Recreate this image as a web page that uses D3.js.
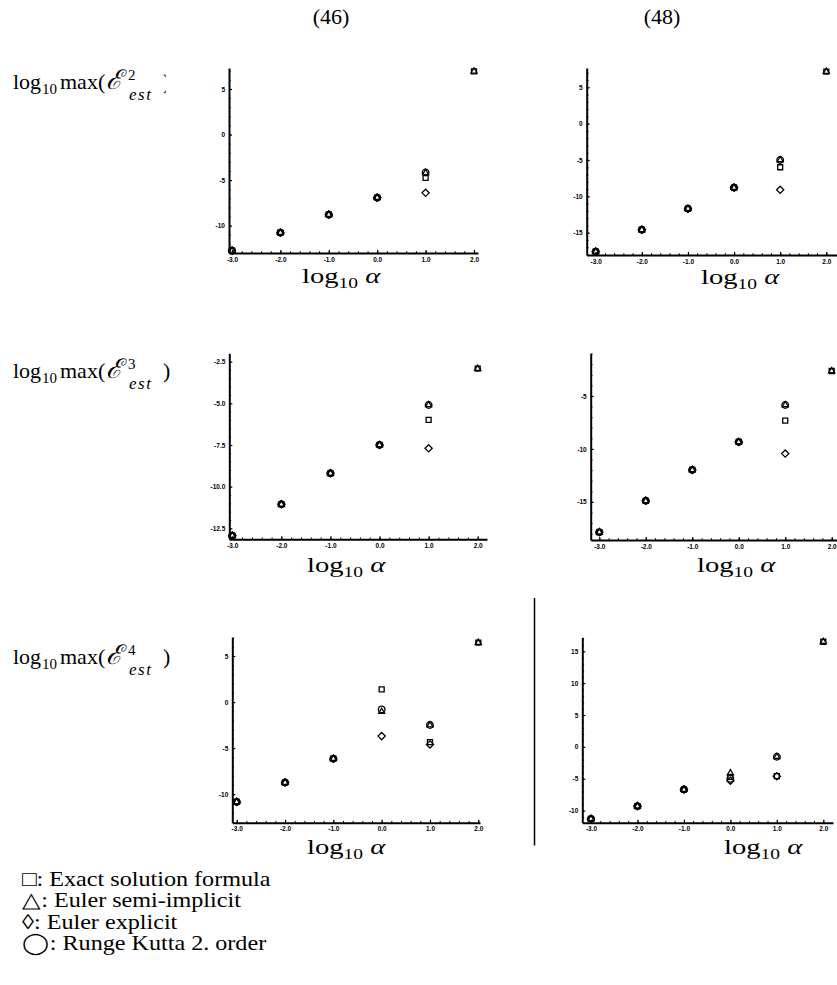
<!DOCTYPE html>
<html>
<head>
<meta charset="utf-8">
<script src="https://cdn.jsdelivr.net/npm/d3@7"></script>
<style>
  body { margin: 0; background: #fff; }
  svg { display: block; }
  .tick text { font-family: "Liberation Sans", Arial, sans-serif; font-weight: bold; font-size: 6.5px; fill: #000; }
  .serif { font-family: "Liberation Serif", "Times New Roman", serif; fill: #000; }
</style>
</head>
<body>
<div id="chart"></div>
<script>
// 数据：横轴 log10(alpha)
const alphaLog = [-3, -2, -1, 0, 1, 2];
const xTickValues = [-3, -2, -1, 0, 1, 2];

// 四种方法
const methods = ["exact", "semi", "explicit", "rk2"];
const legendLabels = ["□: Exact solution formula", "△: Euler semi-implicit", "◊: Euler explicit", "◯: Runge Kutta 2. order"];
const columnTitles = ["(46)", "(48)"];

// 每个子图的 y 刻度
const yTicks_e2_46 = [5, 0, -5, -10];
const yTicks_e2_48 = [5, 0, -5, -10, -15];
const yTicks_e3_46 = [-2.5, -5, -7.5, -10, -12.5];
const yTicks_e3_48 = [-5, -10, -15];
const yTicks_e4_46 = [5, 0, -5, -10];
const yTicks_e4_48 = [15, 10, 5, 0, -5, -10];

// 数值（null = 没有点）
const e2_46_exact    = [-12.74, -10.77, -8.79, -6.93, -4.75, 6.94];
const e2_46_semi     = [-12.74, -10.77, -8.79, -6.93, -4.2, 6.94];
const e2_46_explicit = [-12.74, -10.77, -8.79, -6.93, -6.4, null];
const e2_46_rk2      = [-12.74, -10.77, -8.79, -6.93, -4.16, null];

const e2_48_exact    = [-17.6, -14.6, -11.7, -8.8, -6.0, 7.15];
const e2_48_semi     = [-17.6, -14.6, -11.7, -8.8, -5.0, 7.15];
const e2_48_explicit = [-17.6, -14.6, -11.7, -8.8, -9.1, null];
const e2_48_rk2      = [-17.6, -14.6, -11.7, -8.8, -5.0, null];

const e3_46_exact    = [-12.94, -11.06, -9.2, -7.5, -6.0, -2.92];
const e3_46_semi     = [-12.94, -11.06, -9.2, -7.5, -5.1, -2.92];
const e3_46_explicit = [-12.94, -11.06, -9.2, -7.5, -7.7, null];
const e3_46_rk2      = [-12.94, -11.06, -9.2, -7.5, -5.1, null];

const e3_48_exact    = [-17.86, -14.9, -11.98, -9.34, -7.33, -2.64];
const e3_48_semi     = [-17.86, -14.9, -11.98, -9.34, -5.85, -2.64];
const e3_48_explicit = [-17.86, -14.9, -11.98, -9.34, -10.44, null];
const e3_48_rk2      = [-17.86, -14.9, -11.98, -9.34, -5.85, null];

const e4_46_exact    = [-10.84, -8.74, -6.15, 1.38, -4.35, 6.45];
const e4_46_semi     = [-10.84, -8.74, -6.15, -1.05, -2.5, 6.45];
const e4_46_explicit = [-10.84, -8.74, -6.15, -3.7, -4.6, null];
const e4_46_rk2      = [-10.84, -8.74, -6.15, -0.8, -2.5, null];

const e4_48_exact    = [-11.3, -9.3, -6.7, -4.7, -4.6, 16.5];
const e4_48_semi     = [-11.3, -9.3, -6.7, -4.1, -1.55, 16.5];
const e4_48_explicit = [-11.3, -9.3, -6.7, -5.3, -4.6, null];
const e4_48_rk2      = [-11.3, -9.3, -6.7, -5.0, -1.55, null];

// 布局（像素框 + y 范围）
const panels = [
  { ticks: yTicks_e2_46, minor: 1,   fmt: d3.format("d"),   yLo: -13.0,  yHi: 7.3,   left: 229,   right: 478, top: 68,    bottom: 253,   xm3: 232,   xp2: 474,
    series: [e2_46_exact, e2_46_semi, e2_46_explicit, e2_46_rk2] },
  { ticks: yTicks_e2_48, minor: 1,   fmt: d3.format("d"),   yLo: -18.07, yHi: 7.65,  left: 586.7, right: 837, top: 68,    bottom: 255,   xm3: 595.7, xp2: 826.3,
    series: [e2_48_exact, e2_48_semi, e2_48_explicit, e2_48_rk2] },
  { ticks: yTicks_e3_46, minor: 0.5, fmt: d3.format(".1f"), yLo: -13.16, yHi: -2.0,  left: 229.3, right: 487, top: 353.3, bottom: 539.3, xm3: 232.3, xp2: 477.7,
    series: [e3_46_exact, e3_46_semi, e3_46_explicit, e3_46_rk2] },
  { ticks: yTicks_e3_48, minor: 1,   fmt: d3.format("d"),   yLo: -18.6,  yHi: -0.97, left: 590.7, right: 837, top: 353.3, bottom: 540,   xm3: 599.3, xp2: 831.7,
    series: [e3_48_exact, e3_48_semi, e3_48_explicit, e3_48_rk2] },
  { ticks: yTicks_e4_46, minor: 1,   fmt: d3.format("d"),   yLo: -13.1,  yHi: 7.03,  left: 232.3, right: 480, top: 637.3, bottom: 822.7, xm3: 236.7, xp2: 478.3,
    series: [e4_46_exact, e4_46_semi, e4_46_explicit, e4_46_rk2] },
  { ticks: yTicks_e4_48, minor: 1,   fmt: d3.format("d"),   yLo: -11.9,  yHi: 17.2,  left: 582.3, right: 833, top: 637.3, bottom: 822.7, xm3: 591,   xp2: 823.3,
    series: [e4_48_exact, e4_48_semi, e4_48_explicit, e4_48_rk2] }
];

const rowLabelY = [88.5, 378, 664];
const rowLabelClip = [166, null, null];
const xLabelPos = [[302, 283], [701, 284], [307, 572], [697, 572], [307, 854], [724, 854]];

const width = 837, height = 985;
const fmtX = d3.format(".1f");
const hyphen = s => s.replace("−", "-");

const svg = d3.select("#chart").append("svg")
  .attr("width", width)
  .attr("height", height);

// 标记符号
const markerPath = {
  exact: d3.symbol(d3.symbolSquare, 25)(),
  semi: d3.symbol(d3.symbolTriangle, 16)(),
  explicit: "M0,-3.6L3.6,0L0,3.6L-3.6,0Z",
  rk2: d3.symbol(d3.symbolCircle, Math.PI * 3.3 * 3.3)()
};

function drawPanel(p) {
  const g = svg.append("g");

  // x 比例尺：先用 -3 与 2 的像素定标，再扩展到轴线两端
  const x0 = d3.scaleLinear().domain([-3, 2]).range([p.xm3, p.xp2]);
  const x = d3.scaleLinear().domain([x0.invert(p.left), x0.invert(p.right)]).range([p.left, p.right]);
  const y = d3.scaleLinear().domain([p.yLo, p.yHi]).range([p.bottom, p.top]);

  // 次刻度
  const xMinor = d3.range(-3, 2.001, 0.2).filter(v => v >= x.domain()[0] && v <= x.domain()[1]);
  const yMinor = d3.range(Math.ceil(p.yLo / p.minor) * p.minor, p.yHi, p.minor);

  g.append("g")
    .attr("transform", `translate(${p.left},0)`)
    .call(d3.axisLeft(y).tickValues(yMinor).tickSize(-1.8).tickFormat(""))
    .call(a => a.select(".domain").remove())
    .call(a => a.selectAll("line").attr("stroke-width", 1));
  g.append("g")
    .attr("transform", `translate(0,${p.bottom})`)
    .call(d3.axisBottom(x).tickValues(xMinor).tickSize(-1.8).tickFormat(""))
    .call(a => a.select(".domain").remove())
    .call(a => a.selectAll("line").attr("stroke-width", 1));

  // 主刻度 + 轴线
  g.append("g")
    .attr("transform", `translate(${p.left},0)`)
    .call(d3.axisLeft(y).tickValues(p.ticks).tickSize(-3).tickSizeOuter(0).tickPadding(4)
      .tickFormat(d => hyphen(p.fmt(d))))
    .call(a => a.select(".domain").attr("stroke-width", 2))
    .call(a => a.selectAll("line").attr("stroke-width", 1.2));
  g.append("g")
    .attr("transform", `translate(0,${p.bottom})`)
    .call(d3.axisBottom(x).tickValues(xTickValues).tickSize(-3).tickSizeOuter(0).tickPadding(4)
      .tickFormat(d => hyphen(fmtX(d))))
    .call(a => a.select(".domain").attr("stroke-width", 2))
    .call(a => a.selectAll("line").attr("stroke-width", 1.2));

  // 数据点
  methods.forEach((m, i) => {
    const pts = alphaLog.map((a, j) => ({ a, v: p.series[i][j] })).filter(d => d.v !== null);
    g.selectAll(null)
      .data(pts)
      .enter().append("path")
      .attr("d", markerPath[m])
      .attr("transform", d => `translate(${x(d.a)},${y(d.v)})`)
      .attr("fill", "none")
      .attr("stroke", "#000")
      .attr("stroke-width", 1.3);
  });
}

panels.forEach(drawPanel);

// 列标题
columnTitles.forEach((t, i) => {
  svg.append("text")
    .attr("class", "serif")
    .attr("x", i === 0 ? 331 : 662)
    .attr("y", 24)
    .attr("text-anchor", "middle")
    .style("font-size", "22px")
    .text(t);
});

// 行标签 log10 max(E^n_est)，各段用绝对位置摆放
rowLabelY.forEach((yy, i) => {
  const n = i + 2;
  let target = svg;
  if (rowLabelClip[i]) {
    svg.append("clipPath").attr("id", "clip" + i)
      .append("rect").attr("x", 0).attr("y", yy - 40).attr("width", rowLabelClip[i]).attr("height", 60);
    target = svg.append("g").attr("clip-path", `url(#clip${i})`);
  }
  const t = target.append("text")
    .attr("class", "serif")
    .style("font-size", "22px");
  t.append("tspan").attr("x", 13).attr("y", yy).text("log");
  t.append("tspan").attr("x", 42).attr("y", yy + 5).style("font-size", "15px").text("10");
  t.append("tspan").attr("x", 60).attr("y", yy).text("max(");
  t.append("tspan").attr("x", 106).attr("y", yy).style("font-size", "27px").style("font-style", "italic").text("ℰ");
  t.append("tspan").attr("x", 128).attr("y", yy - 9).style("font-size", "15px").text(String(n));
  t.append("tspan").attr("x", 129).attr("y", yy + 11).style("font-size", "17px")
    .style("font-style", "italic").style("letter-spacing", "1.5px").text("est");
  t.append("tspan").attr("x", 163).attr("y", yy).text(")");
});

// x 轴标题 log10 α（原图横向拉伸）
xLabelPos.forEach(([lx, ly]) => {
  const t = svg.append("text")
    .attr("class", "serif")
    .attr("transform", `translate(${lx},${ly}) scale(1.3,1)`)
    .style("font-size", "22px");
  t.append("tspan").text("log");
  t.append("tspan").attr("dy", 5).style("font-size", "15px").text("10");
  t.append("tspan").attr("dy", -5).style("font-style", "italic").text(" α");
});

// 分隔竖线
svg.append("line")
  .attr("x1", 534.5).attr("x2", 534.5)
  .attr("y1", 598).attr("y2", 845.5)
  .attr("stroke", "#000")
  .attr("stroke-width", 1.5);

// 图例
const legend = svg.append("g").attr("transform", "translate(22,0) scale(1.15,1)");
legendLabels.forEach((s, i) => {
  legend.append("text")
    .attr("class", "serif")
    .attr("x", 0)
    .attr("y", 886 + i * 21.3)
    .style("font-size", "21px")
    .text(s);
});
</script>
</body>
</html>
